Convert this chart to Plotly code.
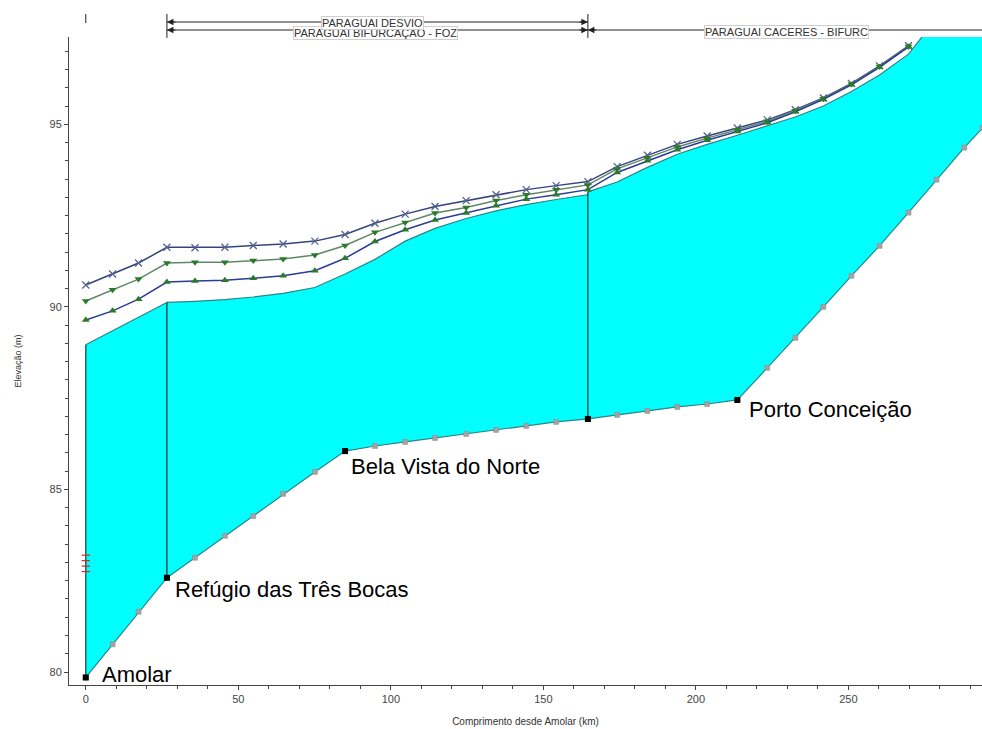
import plotly.graph_objects as go

# ---------------- data (km from Amolar, elevation in m) ----------------
km_a = [0.0, 8.8, 17.3, 26.6]
bed_a = [79.85, 80.76, 81.65, 82.58]
water_a = [88.96, 89.34, 89.72, 90.12]

km_b = [26.6, 35.8, 45.6, 54.9, 64.7, 75.1, 85.0, 94.8, 104.7, 114.5, 124.7, 134.5, 144.4, 154.2, 164.6]
bed_b = [82.58, 83.13, 83.73, 84.27, 84.88, 85.48, 86.05, 86.19, 86.30, 86.41, 86.52, 86.63, 86.74, 86.85, 86.93]
water_b = [90.12, 90.15, 90.20, 90.27, 90.37, 90.53, 90.90, 91.30, 91.80, 92.15, 92.42, 92.63, 92.80, 92.94, 93.07]

km_c = [164.6, 174.2, 184.1, 193.9, 203.7, 213.6, 223.4, 232.6, 241.8, 251.0, 260.2, 269.7, 278.9, 288.0, 294.0]
bed_c = [86.93, 87.04, 87.15, 87.26, 87.34, 87.45, 88.33, 89.15, 90.00, 90.85, 91.67, 92.58, 93.48, 94.36, 94.90]
water_c = [93.15, 93.42, 93.82, 94.18, 94.45, 94.70, 94.95, 95.20, 95.50, 95.90, 96.35, 96.92, 97.90, 98.70, 99.20]

prof_km = [0.0, 8.8, 17.3, 26.6, 35.8, 45.6, 54.9, 64.7, 75.1, 85.0, 94.8, 104.7, 114.5, 124.7,
           134.5, 144.4, 154.2, 164.6, 174.2, 184.1, 193.9, 203.7, 213.6, 223.4, 232.6, 241.8,
           251.0, 260.2, 269.7]
prof_top = [90.60, 90.90, 91.20, 91.63, 91.62, 91.63, 91.68, 91.72, 91.80, 91.98, 92.29, 92.54,
            92.75, 92.91, 93.07, 93.21, 93.32, 93.43, 93.84, 94.15, 94.45, 94.68, 94.90, 95.12,
            95.40, 95.72, 96.12, 96.60, 97.15]
prof_mid = [90.16, 90.47, 90.76, 91.20, 91.22, 91.22, 91.27, 91.31, 91.42, 91.68, 92.04, 92.31,
            92.57, 92.72, 92.91, 93.07, 93.21, 93.34, 93.78, 94.08, 94.38, 94.62, 94.85, 95.08,
            95.37, 95.70, 96.10, 96.58, 97.13]
prof_bot = [89.64, 89.89, 90.21, 90.68, 90.71, 90.73, 90.78, 90.85, 90.99, 91.33, 91.79, 92.11,
            92.38, 92.57, 92.77, 92.95, 93.07, 93.21, 93.68, 94.00, 94.30, 94.56, 94.80, 95.04,
            95.34, 95.68, 96.08, 96.56, 97.12]

station_names = ["Amolar", "Refúgio das Três Bocas", "Bela Vista do Norte", "", "Porto Conceição"]
station_km = [0.0, 26.6, 85.0, 164.6, 213.6]
station_bed = [79.85, 82.58, 86.05, 86.93, 87.45]
label_shift = [(14, 3), (6, -12), (4, -15), (0, 0), (10, -10)]

obs_km = [0.0, 0.0, 0.0, 0.0]
obs_elev = [82.75, 82.90, 83.05, 83.20]

reach_names = ["PARAGUAI BIFURCAÇÃO - FOZ", "PARAGUAI DESVIO", "PARAGUAI CACERES - BIFURC"]

x_ticks = [0, 50, 100, 150, 200, 250]
y_ticks = [80, 85, 90, 95]

# ---------------- figure ----------------
fig = go.Figure()

reaches = [(km_a, bed_a, water_a), (km_b, bed_b, water_b), (km_c, bed_c, water_c)]
for km, bed, wat in reaches:
    fig.add_trace(go.Scatter(
        x=km + km[::-1], y=bed + wat[::-1], mode="lines", fill="toself",
        fillcolor="#00FFFF", line=dict(color="#2b8585", width=1.2),
        hoverinfo="skip", showlegend=False))

# dark reach-boundary verticals
for km, bed, wat in reaches:
    fig.add_trace(go.Scatter(
        x=[km[0], km[0]], y=[bed[0], wat[0]], mode="lines",
        line=dict(color="#1c3c3c", width=1.2), hoverinfo="skip", showlegend=False))

# bed cross-section markers
all_km = km_a + km_b[1:] + km_c[1:]
all_bed = bed_a + bed_b[1:] + bed_c[1:]
fig.add_trace(go.Scatter(
    x=all_km, y=all_bed, mode="markers",
    marker=dict(symbol="square", size=5, color="#a3a3a3", line=dict(color="#8a8a8a", width=0.5)),
    showlegend=False))

# water surface profiles
fig.add_trace(go.Scatter(
    x=prof_km, y=prof_top, mode="lines+markers",
    line=dict(color="#34457e", width=1.5),
    marker=dict(symbol="x-thin", size=7, line=dict(color="#55628f", width=1.3)),
    showlegend=False))
fig.add_trace(go.Scatter(
    x=prof_km, y=prof_mid, mode="lines+markers",
    line=dict(color="#5f8766", width=1.5),
    marker=dict(symbol="triangle-down", size=7, color="#2a7a2a"),
    showlegend=False))
fig.add_trace(go.Scatter(
    x=prof_km, y=prof_bot, mode="lines+markers",
    line=dict(color="#2a3c96", width=1.5),
    marker=dict(symbol="triangle-up", size=7, color="#2a7a2a"),
    showlegend=False))

# observed marks
fig.add_trace(go.Scatter(
    x=obs_km, y=obs_elev, mode="markers",
    marker=dict(symbol="line-ew", size=6, line=dict(color="#e02020", width=1.2)),
    showlegend=False))

# station markers
fig.add_trace(go.Scatter(
    x=station_km, y=station_bed, mode="markers",
    marker=dict(symbol="square", size=6, color="black"), showlegend=False))

for name, xk, yb, (dx, dy) in zip(station_names, station_km, station_bed, label_shift):
    if name:
        fig.add_annotation(x=xk, y=yb, text=name, showarrow=False, xanchor="left",
                           yanchor="middle", xshift=dx, yshift=dy,
                           font=dict(size=22, color="black", family="Liberation Sans, Arial"))

# reach bars on top
y_desvio = 1.0231
y_lower = 1.0108
reach_left = km_b[0]
reach_mid = km_c[0]
reach_right = 300
line_style = dict(color="#222", width=1)
fig.add_shape(type="line", xref="x", yref="paper", x0=reach_left, x1=reach_mid, y0=y_desvio, y1=y_desvio, line=line_style)
fig.add_shape(type="line", xref="x", yref="paper", x0=reach_left, x1=reach_mid, y0=y_lower, y1=y_lower, line=line_style)
fig.add_shape(type="line", xref="x", yref="paper", x0=reach_mid, x1=reach_right, y0=y_lower, y1=y_lower, line=line_style)
for xb in [reach_left, reach_mid]:
    fig.add_shape(type="line", xref="x", yref="paper", x0=xb, x1=xb, y0=0.9985, y1=1.0355, line=line_style)
fig.add_shape(type="line", xref="x", yref="paper", x0=km_a[0], x1=km_a[0], y0=1.0216, y1=1.0355, line=line_style)

for xa, ya, ax in [(reach_left, y_desvio, 10), (reach_mid, y_desvio, -10),
                   (reach_left, y_lower, 10), (reach_mid, y_lower, -10),
                   (reach_mid, y_lower, 10)]:
    fig.add_annotation(x=xa, y=ya, xref="x", yref="paper", text="", showarrow=True,
                       ax=ax, ay=0, arrowhead=2, arrowsize=1.3, arrowwidth=1, arrowcolor="#222")

for name, px, py in [(reach_names[0], 0.336, 1.0062), (reach_names[1], 0.332, 1.0216),
                     (reach_names[2], 0.786, 1.0077)]:
    fig.add_annotation(x=px, y=py, xref="paper", yref="paper", text=name, showarrow=False,
                       xanchor="center", yanchor="middle",
                       font=dict(size=11, color="#333", family="Liberation Sans, Arial"),
                       bgcolor="white", bordercolor="#cfcfcf", borderwidth=1, borderpad=0)

fig.update_layout(
    width=982, height=729,
    margin=dict(l=69, r=0, t=37, b=44, autoexpand=False),
    plot_bgcolor="white", paper_bgcolor="white",
    showlegend=False,
    font=dict(family="Liberation Sans, Arial", color="#333"),
)
fig.update_xaxes(
    range=[-5.5, 293.8], tickvals=x_ticks, ticks="outside", ticklen=4, tickcolor="#444",
    showline=True, linecolor="#444", linewidth=1, showgrid=False, zeroline=False,
    minor=dict(dtick=10, tick0=0, ticks="outside", ticklen=3, tickcolor="#444"),
    tickfont=dict(size=11, color="#444"), automargin=False,
    title=dict(text="Comprimento desde Amolar (km)", font=dict(size=10, color="#333"), standoff=13),
)
fig.update_yaxes(
    range=[79.644, 97.39], tickvals=y_ticks, ticks="outside", ticklen=4, tickcolor="#444",
    showline=True, linecolor="#444", linewidth=1, showgrid=False, zeroline=False,
    minor=dict(dtick=0.5, tick0=80, ticks="outside", ticklen=3, tickcolor="#444"),
    tickfont=dict(size=11, color="#444"), automargin=False,
    title=dict(text="Elevação (m)", font=dict(size=9, color="#333"), standoff=26),
)

fig.write_html("out.html", config={"displayModeBar": False},
               post_script="document.body.style.margin='0';document.body.style.overflow='hidden';")
